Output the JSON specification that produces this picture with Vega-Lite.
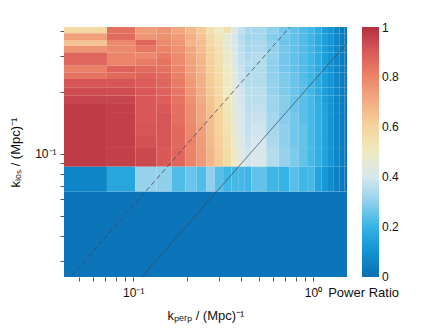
{
"$schema": "https://vega.github.io/schema/vega-lite/v6.json",
"width": 283, "height": 250,
"autosize": {"type": "none"},
"padding": {"left": 64, "top": 27, "right": 89, "bottom": 52},
"background": "white",
"config": {"view": {"stroke": null}, "font": "Liberation Sans",
 "axis": {"grid": false, "domain": false, "tickColor": "#555", "tickSize": 4, "labelFontSize": 12, "titleFontSize": 13, "titleFontWeight": "normal", "labelColor": "#111", "titleColor": "#111"}},
"datasets": {
"cols": [
{"c":0,"k0":0.0412,"k1":0.0714},{"c":1,"k0":0.0714,"k1":0.1026},{"c":2,"k0":0.1026,"k1":0.1349},{"c":3,"k0":0.1349,"k1":0.1634},{"c":4,"k0":0.1634,"k1":0.195},{"c":5,"k0":0.195,"k1":0.2249},{"c":6,"k0":0.2249,"k1":0.2557},{"c":7,"k0":0.2557,"k1":0.2843},{"c":8,"k0":0.2843,"k1":0.3162},{"c":9,"k0":0.3162,"k1":0.3521},{"c":10,"k0":0.3521,"k1":0.3832},{"c":11,"k0":0.3832,"k1":0.4174},{"c":12,"k0":0.4174,"k1":0.4546},{"c":13,"k0":0.4546,"k1":0.549},{"c":14,"k0":0.549,"k1":0.644},{"c":15,"k0":0.644,"k1":0.738},{"c":16,"k0":0.738,"k1":0.833},{"c":17,"k0":0.833,"k1":0.927},{"c":18,"k0":0.927,"k1":1.022},{"c":19,"k0":1.022,"k1":1.116},{"c":20,"k0":1.116,"k1":1.211},{"c":21,"k0":1.211,"k1":1.305},{"c":22,"k0":1.305,"k1":1.4},{"c":23,"k0":1.4,"k1":1.494},{"c":24,"k0":1.494,"k1":1.545},{"c":99,"k0":0.0412,"k1":1.545}],
"rows": [
{"r":0,"q0":0.388,"q1":0.4164},{"r":1,"q0":0.3598,"q1":0.388},{"r":2,"q0":0.3375,"q1":0.3598},{"r":3,"q0":0.3133,"q1":0.3375},{"r":4,"q0":0.2906,"q1":0.3133},{"r":5,"q0":0.2696,"q1":0.2906},{"r":6,"q0":0.2503,"q1":0.2696},{"r":7,"q0":0.2322,"q1":0.2503},{"r":8,"q0":0.2115,"q1":0.2322},{"r":9,"q0":0.1925,"q1":0.2115},{"r":10,"q0":0.1754,"q1":0.1925},{"r":11,"q0":0.1585,"q1":0.1754},{"r":12,"q0":0.14,"q1":0.1585},{"r":13,"q0":0.1224,"q1":0.14},{"r":14,"q0":0.107,"q1":0.1224},{"r":15,"q0":0.0867,"q1":0.107},{"r":16,"q0":0.0655,"q1":0.0867},{"r":17,"q0":0.0251,"q1":0.0655}],
"cells": [
{"c":0,"r":0,"v":0.58},{"c":0,"r":1,"v":0.73},{"c":0,"r":2,"v":0.64},{"c":0,"r":3,"v":0.76},{"c":0,"r":4,"v":0.87},{"c":0,"r":5,"v":0.87},{"c":0,"r":6,"v":0.81},{"c":0,"r":7,"v":0.84},{"c":0,"r":8,"v":0.91},{"c":0,"r":9,"v":0.93},{"c":0,"r":10,"v":0.95},{"c":0,"r":11,"v":0.97},{"c":0,"r":12,"v":0.97},{"c":0,"r":13,"v":0.97},{"c":0,"r":14,"v":0.97},{"c":0,"r":15,"v":0.97},{"c":0,"r":16,"v":0.06},
{"c":1,"r":0,"v":0.85},{"c":1,"r":1,"v":0.86},{"c":1,"r":2,"v":0.79},{"c":1,"r":3,"v":0.79},{"c":1,"r":4,"v":0.8},{"c":1,"r":5,"v":0.8},{"c":1,"r":6,"v":0.88},{"c":1,"r":7,"v":0.86},{"c":1,"r":8,"v":0.91},{"c":1,"r":9,"v":0.93},{"c":1,"r":10,"v":0.95},{"c":1,"r":11,"v":0.96},{"c":1,"r":12,"v":0.96},{"c":1,"r":13,"v":0.96},{"c":1,"r":14,"v":0.96},{"c":1,"r":15,"v":0.96},{"c":1,"r":16,"v":0.16},
{"c":2,"r":0,"v":0.74},{"c":2,"r":1,"v":0.76},{"c":2,"r":2,"v":0.87},{"c":2,"r":3,"v":0.83},{"c":2,"r":4,"v":0.79},{"c":2,"r":5,"v":0.82},{"c":2,"r":6,"v":0.86},{"c":2,"r":7,"v":0.88},{"c":2,"r":8,"v":0.89},{"c":2,"r":9,"v":0.9},{"c":2,"r":10,"v":0.9},{"c":2,"r":11,"v":0.9},{"c":2,"r":12,"v":0.9},{"c":2,"r":13,"v":0.91},{"c":2,"r":14,"v":0.92},{"c":2,"r":15,"v":0.94},{"c":2,"r":16,"v":0.31},
{"c":3,"r":0,"v":0.76},{"c":3,"r":1,"v":0.77},{"c":3,"r":2,"v":0.78},{"c":3,"r":3,"v":0.8},{"c":3,"r":4,"v":0.82},{"c":3,"r":5,"v":0.84},{"c":3,"r":6,"v":0.84},{"c":3,"r":7,"v":0.86},{"c":3,"r":8,"v":0.87},{"c":3,"r":9,"v":0.88},{"c":3,"r":10,"v":0.89},{"c":3,"r":11,"v":0.9},{"c":3,"r":12,"v":0.91},{"c":3,"r":13,"v":0.91},{"c":3,"r":14,"v":0.91},{"c":3,"r":15,"v":0.9},{"c":3,"r":16,"v":0.3},
{"c":4,"r":0,"v":0.72},{"c":4,"r":1,"v":0.74},{"c":4,"r":2,"v":0.76},{"c":4,"r":3,"v":0.77},{"c":4,"r":4,"v":0.78},{"c":4,"r":5,"v":0.78},{"c":4,"r":6,"v":0.8},{"c":4,"r":7,"v":0.81},{"c":4,"r":8,"v":0.82},{"c":4,"r":9,"v":0.83},{"c":4,"r":10,"v":0.84},{"c":4,"r":11,"v":0.85},{"c":4,"r":12,"v":0.85},{"c":4,"r":13,"v":0.86},{"c":4,"r":14,"v":0.86},{"c":4,"r":15,"v":0.87},{"c":4,"r":16,"v":0.23},
{"c":5,"r":0,"v":0.67},{"c":5,"r":1,"v":0.7},{"c":5,"r":2,"v":0.68},{"c":5,"r":3,"v":0.72},{"c":5,"r":4,"v":0.72},{"c":5,"r":5,"v":0.73},{"c":5,"r":6,"v":0.73},{"c":5,"r":7,"v":0.74},{"c":5,"r":8,"v":0.75},{"c":5,"r":9,"v":0.76},{"c":5,"r":10,"v":0.77},{"c":5,"r":11,"v":0.78},{"c":5,"r":12,"v":0.78},{"c":5,"r":13,"v":0.79},{"c":5,"r":14,"v":0.8},{"c":5,"r":15,"v":0.8},{"c":5,"r":16,"v":0.26},
{"c":6,"r":0,"v":0.63},{"c":6,"r":1,"v":0.64},{"c":6,"r":2,"v":0.66},{"c":6,"r":3,"v":0.66},{"c":6,"r":4,"v":0.67},{"c":6,"r":5,"v":0.68},{"c":6,"r":6,"v":0.68},{"c":6,"r":7,"v":0.69},{"c":6,"r":8,"v":0.69},{"c":6,"r":9,"v":0.7},{"c":6,"r":10,"v":0.71},{"c":6,"r":11,"v":0.72},{"c":6,"r":12,"v":0.72},{"c":6,"r":13,"v":0.73},{"c":6,"r":14,"v":0.74},{"c":6,"r":15,"v":0.75},{"c":6,"r":16,"v":0.23},
{"c":7,"r":0,"v":0.55},{"c":7,"r":1,"v":0.57},{"c":7,"r":2,"v":0.58},{"c":7,"r":3,"v":0.6},{"c":7,"r":4,"v":0.6},{"c":7,"r":5,"v":0.61},{"c":7,"r":6,"v":0.61},{"c":7,"r":7,"v":0.62},{"c":7,"r":8,"v":0.62},{"c":7,"r":9,"v":0.63},{"c":7,"r":10,"v":0.64},{"c":7,"r":11,"v":0.65},{"c":7,"r":12,"v":0.66},{"c":7,"r":13,"v":0.66},{"c":7,"r":14,"v":0.67},{"c":7,"r":15,"v":0.68},{"c":7,"r":16,"v":0.3},
{"c":8,"r":0,"v":0.5},{"c":8,"r":1,"v":0.52},{"c":8,"r":2,"v":0.53},{"c":8,"r":3,"v":0.54},{"c":8,"r":4,"v":0.55},{"c":8,"r":5,"v":0.55},{"c":8,"r":6,"v":0.56},{"c":8,"r":7,"v":0.56},{"c":8,"r":8,"v":0.57},{"c":8,"r":9,"v":0.57},{"c":8,"r":10,"v":0.58},{"c":8,"r":11,"v":0.59},{"c":8,"r":12,"v":0.6},{"c":8,"r":13,"v":0.6},{"c":8,"r":14,"v":0.61},{"c":8,"r":15,"v":0.62},{"c":8,"r":16,"v":0.24},
{"c":9,"r":0,"v":0.55},{"c":9,"r":1,"v":0.47},{"c":9,"r":2,"v":0.46},{"c":9,"r":3,"v":0.47},{"c":9,"r":4,"v":0.48},{"c":9,"r":5,"v":0.48},{"c":9,"r":6,"v":0.49},{"c":9,"r":7,"v":0.5},{"c":9,"r":8,"v":0.5},{"c":9,"r":9,"v":0.5},{"c":9,"r":10,"v":0.51},{"c":9,"r":11,"v":0.52},{"c":9,"r":12,"v":0.53},{"c":9,"r":13,"v":0.54},{"c":9,"r":14,"v":0.55},{"c":9,"r":15,"v":0.57},{"c":9,"r":16,"v":0.21},
{"c":10,"r":0,"v":0.42},{"c":10,"r":1,"v":0.4},{"c":10,"r":2,"v":0.4},{"c":10,"r":3,"v":0.41},{"c":10,"r":4,"v":0.42},{"c":10,"r":5,"v":0.42},{"c":10,"r":6,"v":0.43},{"c":10,"r":7,"v":0.43},{"c":10,"r":8,"v":0.44},{"c":10,"r":9,"v":0.44},{"c":10,"r":10,"v":0.45},{"c":10,"r":11,"v":0.45},{"c":10,"r":12,"v":0.46},{"c":10,"r":13,"v":0.47},{"c":10,"r":14,"v":0.48},{"c":10,"r":15,"v":0.5},{"c":10,"r":16,"v":0.22},
{"c":11,"r":0,"v":0.37},{"c":11,"r":1,"v":0.35},{"c":11,"r":2,"v":0.36},{"c":11,"r":3,"v":0.36},{"c":11,"r":4,"v":0.37},{"c":11,"r":5,"v":0.37},{"c":11,"r":6,"v":0.38},{"c":11,"r":7,"v":0.38},{"c":11,"r":8,"v":0.38},{"c":11,"r":9,"v":0.39},{"c":11,"r":10,"v":0.39},{"c":11,"r":11,"v":0.4},{"c":11,"r":12,"v":0.4},{"c":11,"r":13,"v":0.41},{"c":11,"r":14,"v":0.42},{"c":11,"r":15,"v":0.43},{"c":11,"r":16,"v":0.22},
{"c":12,"r":0,"v":0.34},{"c":12,"r":1,"v":0.32},{"c":12,"r":2,"v":0.33},{"c":12,"r":3,"v":0.33},{"c":12,"r":4,"v":0.34},{"c":12,"r":5,"v":0.35},{"c":12,"r":6,"v":0.34},{"c":12,"r":7,"v":0.35},{"c":12,"r":8,"v":0.35},{"c":12,"r":9,"v":0.36},{"c":12,"r":10,"v":0.36},{"c":12,"r":11,"v":0.36},{"c":12,"r":12,"v":0.37},{"c":12,"r":13,"v":0.37},{"c":12,"r":14,"v":0.38},{"c":12,"r":15,"v":0.39},{"c":12,"r":16,"v":0.21},
{"c":13,"r":0,"v":0.33},{"c":13,"r":1,"v":0.33},{"c":13,"r":2,"v":0.34},{"c":13,"r":3,"v":0.34},{"c":13,"r":4,"v":0.35},{"c":13,"r":5,"v":0.35},{"c":13,"r":6,"v":0.35},{"c":13,"r":7,"v":0.35},{"c":13,"r":8,"v":0.35},{"c":13,"r":9,"v":0.36},{"c":13,"r":10,"v":0.36},{"c":13,"r":11,"v":0.37},{"c":13,"r":12,"v":0.38},{"c":13,"r":13,"v":0.39},{"c":13,"r":14,"v":0.4},{"c":13,"r":15,"v":0.41},{"c":13,"r":16,"v":0.25},
{"c":14,"r":0,"v":0.3},{"c":14,"r":1,"v":0.29},{"c":14,"r":2,"v":0.3},{"c":14,"r":3,"v":0.3},{"c":14,"r":4,"v":0.31},{"c":14,"r":5,"v":0.3},{"c":14,"r":6,"v":0.3},{"c":14,"r":7,"v":0.3},{"c":14,"r":8,"v":0.31},{"c":14,"r":9,"v":0.31},{"c":14,"r":10,"v":0.32},{"c":14,"r":11,"v":0.32},{"c":14,"r":12,"v":0.33},{"c":14,"r":13,"v":0.33},{"c":14,"r":14,"v":0.34},{"c":14,"r":15,"v":0.35},{"c":14,"r":16,"v":0.21},
{"c":15,"r":0,"v":0.27},{"c":15,"r":1,"v":0.27},{"c":15,"r":2,"v":0.26},{"c":15,"r":3,"v":0.27},{"c":15,"r":4,"v":0.27},{"c":15,"r":5,"v":0.27},{"c":15,"r":6,"v":0.27},{"c":15,"r":7,"v":0.28},{"c":15,"r":8,"v":0.28},{"c":15,"r":9,"v":0.28},{"c":15,"r":10,"v":0.29},{"c":15,"r":11,"v":0.29},{"c":15,"r":12,"v":0.29},{"c":15,"r":13,"v":0.3},{"c":15,"r":14,"v":0.3},{"c":15,"r":15,"v":0.31},{"c":15,"r":16,"v":0.2},
{"c":16,"r":0,"v":0.25},{"c":16,"r":1,"v":0.25},{"c":16,"r":2,"v":0.25},{"c":16,"r":3,"v":0.25},{"c":16,"r":4,"v":0.25},{"c":16,"r":5,"v":0.25},{"c":16,"r":6,"v":0.25},{"c":16,"r":7,"v":0.26},{"c":16,"r":8,"v":0.26},{"c":16,"r":9,"v":0.26},{"c":16,"r":10,"v":0.26},{"c":16,"r":11,"v":0.26},{"c":16,"r":12,"v":0.27},{"c":16,"r":13,"v":0.27},{"c":16,"r":14,"v":0.27},{"c":16,"r":15,"v":0.28},{"c":16,"r":16,"v":0.24},
{"c":17,"r":0,"v":0.23},{"c":17,"r":1,"v":0.23},{"c":17,"r":2,"v":0.23},{"c":17,"r":3,"v":0.23},{"c":17,"r":4,"v":0.23},{"c":17,"r":5,"v":0.23},{"c":17,"r":6,"v":0.23},{"c":17,"r":7,"v":0.23},{"c":17,"r":8,"v":0.24},{"c":17,"r":9,"v":0.24},{"c":17,"r":10,"v":0.24},{"c":17,"r":11,"v":0.24},{"c":17,"r":12,"v":0.24},{"c":17,"r":13,"v":0.25},{"c":17,"r":14,"v":0.25},{"c":17,"r":15,"v":0.25},{"c":17,"r":16,"v":0.21},
{"c":18,"r":0,"v":0.21},{"c":18,"r":1,"v":0.21},{"c":18,"r":2,"v":0.21},{"c":18,"r":3,"v":0.21},{"c":18,"r":4,"v":0.21},{"c":18,"r":5,"v":0.21},{"c":18,"r":6,"v":0.21},{"c":18,"r":7,"v":0.21},{"c":18,"r":8,"v":0.21},{"c":18,"r":9,"v":0.21},{"c":18,"r":10,"v":0.22},{"c":18,"r":11,"v":0.22},{"c":18,"r":12,"v":0.22},{"c":18,"r":13,"v":0.22},{"c":18,"r":14,"v":0.22},{"c":18,"r":15,"v":0.22},{"c":18,"r":16,"v":0.22},
{"c":19,"r":0,"v":0.18},{"c":19,"r":1,"v":0.18},{"c":19,"r":2,"v":0.18},{"c":19,"r":3,"v":0.18},{"c":19,"r":4,"v":0.18},{"c":19,"r":5,"v":0.18},{"c":19,"r":6,"v":0.18},{"c":19,"r":7,"v":0.18},{"c":19,"r":8,"v":0.18},{"c":19,"r":9,"v":0.18},{"c":19,"r":10,"v":0.18},{"c":19,"r":11,"v":0.19},{"c":19,"r":12,"v":0.19},{"c":19,"r":13,"v":0.19},{"c":19,"r":14,"v":0.19},{"c":19,"r":15,"v":0.19},{"c":19,"r":16,"v":0.15},
{"c":20,"r":0,"v":0.14},{"c":20,"r":1,"v":0.14},{"c":20,"r":2,"v":0.14},{"c":20,"r":3,"v":0.14},{"c":20,"r":4,"v":0.14},{"c":20,"r":5,"v":0.14},{"c":20,"r":6,"v":0.14},{"c":20,"r":7,"v":0.14},{"c":20,"r":8,"v":0.14},{"c":20,"r":9,"v":0.14},{"c":20,"r":10,"v":0.14},{"c":20,"r":11,"v":0.15},{"c":20,"r":12,"v":0.15},{"c":20,"r":13,"v":0.15},{"c":20,"r":14,"v":0.15},{"c":20,"r":15,"v":0.15},{"c":20,"r":16,"v":0.12},
{"c":21,"r":0,"v":0.11},{"c":21,"r":1,"v":0.11},{"c":21,"r":2,"v":0.11},{"c":21,"r":3,"v":0.11},{"c":21,"r":4,"v":0.11},{"c":21,"r":5,"v":0.11},{"c":21,"r":6,"v":0.11},{"c":21,"r":7,"v":0.11},{"c":21,"r":8,"v":0.11},{"c":21,"r":9,"v":0.11},{"c":21,"r":10,"v":0.11},{"c":21,"r":11,"v":0.11},{"c":21,"r":12,"v":0.11},{"c":21,"r":13,"v":0.11},{"c":21,"r":14,"v":0.11},{"c":21,"r":15,"v":0.11},{"c":21,"r":16,"v":0.08},
{"c":22,"r":0,"v":0.07},{"c":22,"r":1,"v":0.07},{"c":22,"r":2,"v":0.07},{"c":22,"r":3,"v":0.07},{"c":22,"r":4,"v":0.07},{"c":22,"r":5,"v":0.07},{"c":22,"r":6,"v":0.07},{"c":22,"r":7,"v":0.07},{"c":22,"r":8,"v":0.07},{"c":22,"r":9,"v":0.07},{"c":22,"r":10,"v":0.07},{"c":22,"r":11,"v":0.07},{"c":22,"r":12,"v":0.07},{"c":22,"r":13,"v":0.07},{"c":22,"r":14,"v":0.07},{"c":22,"r":15,"v":0.07},{"c":22,"r":16,"v":0.05},
{"c":23,"r":0,"v":0.04},{"c":23,"r":1,"v":0.04},{"c":23,"r":2,"v":0.04},{"c":23,"r":3,"v":0.04},{"c":23,"r":4,"v":0.04},{"c":23,"r":5,"v":0.04},{"c":23,"r":6,"v":0.04},{"c":23,"r":7,"v":0.04},{"c":23,"r":8,"v":0.04},{"c":23,"r":9,"v":0.04},{"c":23,"r":10,"v":0.04},{"c":23,"r":11,"v":0.04},{"c":23,"r":12,"v":0.04},{"c":23,"r":13,"v":0.04},{"c":23,"r":14,"v":0.04},{"c":23,"r":15,"v":0.04},{"c":23,"r":16,"v":0.03},
{"c":24,"r":0,"v":0.03},{"c":24,"r":1,"v":0.03},{"c":24,"r":2,"v":0.03},{"c":24,"r":3,"v":0.03},{"c":24,"r":4,"v":0.03},{"c":24,"r":5,"v":0.03},{"c":24,"r":6,"v":0.03},{"c":24,"r":7,"v":0.03},{"c":24,"r":8,"v":0.03},{"c":24,"r":9,"v":0.03},{"c":24,"r":10,"v":0.03},{"c":24,"r":11,"v":0.03},{"c":24,"r":12,"v":0.03},{"c":24,"r":13,"v":0.03},{"c":24,"r":14,"v":0.03},{"c":24,"r":15,"v":0.03},{"c":24,"r":16,"v":0.02},
{"c":99,"r":17,"v":0.02}],
"lines": [
{"l":"a","kx":0.04,"ky":0.0224},{"l":"a","kx":1.6,"ky":0.896},
{"l":"b","kx":0.1,"ky":0.0225},{"l":"b","kx":1.6,"ky":0.36}]
},
"layer": [
{"data": {"name": "cells"},
 "transform": [
  {"lookup": "c", "from": {"data": {"name": "cols"}, "key": "c", "fields": ["k0", "k1"]}},
  {"lookup": "r", "from": {"data": {"name": "rows"}, "key": "r", "fields": ["q0", "q1"]}}
 ],
 "mark": {"type": "rect"},
 "encoding": {
  "x": {"field": "k0", "type": "quantitative", "scale": {"type": "log", "domain": [0.0412, 1.545], "nice": false},
   "axis": {"title": "kₚₑᵣₚ / (Mpc)⁻¹", "values": [0.05,0.06,0.07,0.08,0.09,0.1,0.2,0.3,0.4,0.5,0.6,0.7,0.8,0.9,1], "labelExpr": "datum.value == 0.1 ? '10⁻¹' : datum.value == 1 ? '10⁰' : ''", "labelPadding": 6, "titlePadding": 11}},
  "x2": {"field": "k1"},
  "y": {"field": "q0", "type": "quantitative", "scale": {"type": "log", "domain": [0.0251, 0.4164], "nice": false},
   "axis": {"title": "kₗₒₛ / (Mpc)⁻¹", "values": [0.03,0.04,0.05,0.06,0.07,0.08,0.09,0.1,0.2,0.3,0.4], "labelExpr": "datum.value == 0.1 ? '10⁻¹' : ''", "labelPadding": 4, "titlePadding": 12}},
  "y2": {"field": "q1"},
  "color": {"field": "v", "type": "quantitative",
   "scale": {"domain": [0,0.1,0.2,0.3,0.4,0.5,0.6,0.7,0.8,0.9,1], "range": ["#0b6eb3","#1192d2","#35b3e5","#8fd0ec","#d8e7ee","#eeeac2","#f5d49c","#f2ae84","#eb8469","#da5958","#b3303f"], "interpolate": "rgb"},
   "legend": {"type": "gradient", "orient": "none", "legendX": 264, "legendY": 0, "title": "Power Ratio", "titleOrient": "bottom", "titleAnchor": "end", "gradientLength": 250, "gradientThickness": 17, "values": [0.002,0.2,0.4,0.6,0.8,0.998], "labelExpr": "datum.value < 0.01 ? '0' : datum.value > 0.99 ? '1' : format(datum.value, '.1f')", "labelFontSize": 12, "titleFontSize": 13, "titleFontWeight": "normal", "labelOffset": 3, "labelOverlap": false, "titlePadding": 4, "labelColor": "#111", "titleColor": "#111"}}
 }
},
{"data": {"name": "lines"},
 "mark": {"type": "line", "clip": true, "color": "#3d4855", "strokeWidth": 0.8},
 "encoding": {
  "x": {"field": "kx", "type": "quantitative", "scale": {"type": "log", "domain": [0.0412, 1.545], "nice": false}},
  "y": {"field": "ky", "type": "quantitative", "scale": {"type": "log", "domain": [0.0251, 0.4164], "nice": false}},
  "detail": {"field": "l"},
  "strokeDash": {"field": "l", "type": "nominal", "scale": {"domain": ["a","b"], "range": [[5,3],[1,0]]}, "legend": null}
 }
}
]
}
